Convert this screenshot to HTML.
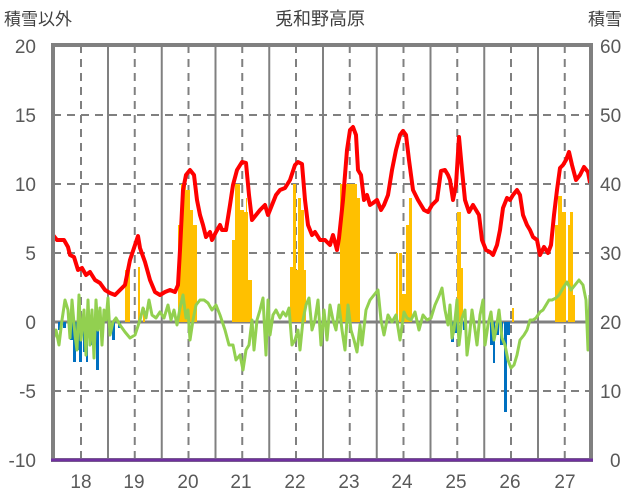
<!DOCTYPE html>
<html><head><meta charset="utf-8"><style>
html,body{margin:0;padding:0;background:#fff}
svg{display:block;font-family:"Liberation Sans","Noto Sans CJK JP",sans-serif}
</style></head><body>
<svg id="s" width="636" height="501" viewBox="0 0 636 501">
<g fill="#595959" font-size="19">
<text x="320" y="25" text-anchor="middle" font-size="18" fill="#404040">兎和野高原</text>
<text x="4" y="25" font-size="17" fill="#404040">積雪以外</text>
<text x="588" y="25" font-size="17" fill="#404040">積雪</text>
<g text-anchor="end">
<text x="36" y="53">20</text><text x="36" y="122">15</text><text x="36" y="191">10</text>
<text x="36" y="260">5</text><text x="36" y="329">0</text><text x="36" y="398">-5</text><text x="36" y="467">-10</text>
</g>
<g text-anchor="start">
<text x="600" y="53">60</text><text x="600" y="122">50</text><text x="600" y="191">40</text>
<text x="600" y="260">30</text><text x="600" y="329">20</text><text x="600" y="398">10</text><text x="610" y="467">0</text>
</g>
<g text-anchor="middle">
<text x="81" y="488">18</text><text x="134" y="488">19</text><text x="188" y="488">20</text><text x="241" y="488">21</text><text x="295" y="488">22</text><text x="349" y="488">23</text><text x="402" y="488">24</text><text x="456" y="488">25</text><text x="510" y="488">26</text><text x="565" y="488">27</text>
</g>
</g>
<g id="grid"></g>
<g id="bars"></g>
<g id="lines"></g>
<rect x="53" y="45" width="538" height="415" fill="none" stroke="#808080" stroke-width="4"/>
<line x1="51" y1="460" x2="593" y2="460" stroke="#7030a0" stroke-width="3"/>
</svg>
<script>
const NS="http://www.w3.org/2000/svg";
function el(p,t,a){const e=document.createElementNS(NS,t);for(const k in a)e.setAttribute(k,a[k]);document.getElementById(p).appendChild(e);return e;}
[115,184,253,391].forEach(y=>el("grid","line",{x1:53,x2:591,y1:y,y2:y,stroke:"#808080","stroke-width":2,"stroke-dasharray":"8,6"}));
el("grid","line",{x1:53,x2:591,y1:322,y2:322,stroke:"#808080","stroke-width":3});
for(let i=0;i<10;i++){let xd=81+i*53.75;el("grid","line",{x1:xd,x2:xd,y1:45,y2:460,stroke:"#808080","stroke-width":2,"stroke-dasharray":"8,6"});
if(i<9){let xs=108+i*53.75;el("grid","line",{x1:xs,x2:xs,y1:45,y2:460,stroke:"#808080","stroke-width":2});}}
const Y=[[125,130,270],[138,140,267],[143,145,308],[178,181,225],[181,186,184],[186,190,190],[190,193,210],[193,197,225],
[232,235,240],[235,240,184],[240,244,210],[244,248,212],[246,247,198],[248,252,280],
[290,293,267],[293,296,184],[296,298,270],[298,301,198],[301,304,210],[304,306,270],
[340,357,184],[357,360,198],[396,398,253],[399,402,253],[402,406,294],[406,409,225],[409,412,198],
[457,461,212],[461,463,268],[512,514,308],[555,558,225],[558,562,196],[562,566,212],[568,570,225],[570,573,212],[573,575,295]];
Y.forEach(b=>el("bars","rect",{x:b[0],y:b[2],width:b[1]-b[0],height:322-b[2],fill:"#ffc000"}));
const B=[[58,61,330],[63,66,328],[70,73,340],[73,76,362],[76,79,350],[79,82,362],[83,86,352],[86,88,362],[90,92,345],[96,99,370],[101,104,330],[108,110,330],[112,115,340],[118,121,328],
[451,454,342],[454,457,333],[463,466,330],[490,493,345],[493,495,363],[496,499,335],[500,503,345],[504,507,412],[507,510,335]];
B.forEach(b=>el("bars","rect",{x:b[0],y:322,width:b[1]-b[0],height:b[2]-322,fill:"#0070c0"}));
const G=[[53,340],[56,330],[59,345],[62,320],[65,300],[68,310],[70,338],[72,300],[75,335],[77,350],[79,295],[81,340],[84,310],[86,355],[88,300],[90,345],[92,310],[94,358],[96,300],[98,330],[100,308],[102,345],[104,310],[106,320],[108,298],[110,335],[113,322],[116,318],[120,325],[125,332],[130,338],[135,335],[140,320],[143,308],[146,318],[149,300],[152,315],[156,318],[160,312],[164,318],[168,305],[171,320],[174,310],[177,325],[180,308],[183,295],[186,318],[188,310],[190,340],[193,320],[196,305],[200,300],[204,300],[208,303],[212,310],[216,305],[220,315],[225,330],[229,345],[233,345],[236,360],[240,355],[243,370],[246,350],[249,345],[252,320],[254,350],[257,320],[260,310],[263,298],[266,355],[268,300],[270,335],[273,315],[276,310],[280,318],[283,312],[286,316],[289,308],[292,345],[295,340],[298,330],[300,350],[303,320],[306,305],[309,298],[312,330],[315,320],[318,300],[321,345],[324,310],[327,340],[330,305],[333,320],[336,330],[339,305],[342,330],[345,350],[348,305],[351,330],[354,340],[357,352],[360,325],[362,345],[366,310],[370,300],[374,295],[378,290],[381,320],[384,335],[388,315],[392,322],[396,315],[400,340],[404,312],[407,318],[411,320],[415,312],[419,330],[423,315],[427,320],[431,318],[435,305],[439,296],[442,288],[445,310],[448,325],[450,305],[452,338],[454,330],[457,300],[459,345],[462,318],[465,310],[467,355],[469,340],[472,310],[475,330],[477,345],[480,315],[483,300],[485,345],[488,325],[491,312],[494,340],[496,330],[499,310],[502,338],[505,345],[508,360],[511,368],[514,365],[517,355],[520,340],[524,335],[527,330],[530,320],[533,320],[536,318],[540,312],[543,310],[546,305],[549,300],[552,300],[556,298],[559,295],[563,288],[567,282],[571,290],[575,285],[579,280],[583,285],[586,300],[588,350],[590,295]];
el("lines","polyline",{points:G.map(p=>p.join(",")).join(" "),fill:"none",stroke:"#92d050","stroke-width":3,"stroke-linejoin":"round"});
const R=[[53,235],[57,240],[64,240],[68,247],[70,255],[74,257],[78,270],[82,268],[86,275],[90,272],[95,280],[100,283],[105,290],[110,293],[115,295],[120,290],[125,285],[130,260],[135,245],[138,236],[140,248],[145,262],[150,280],[155,292],[160,295],[165,292],[170,290],[175,292],[178,285],[180,250],[183,190],[186,175],[190,170],[194,175],[197,200],[200,215],[203,225],[206,237],[210,232],[212,240],[216,232],[220,225],[222,230],[226,230],[230,205],[233,185],[237,170],[242,162],[246,163],[249,195],[252,220],[256,215],[260,210],[265,205],[268,215],[272,205],[276,195],[280,190],[285,188],[290,180],[295,165],[298,162],[302,164],[305,200],[308,225],[312,235],[315,232],[320,240],[325,240],[330,245],[333,235],[337,250],[339,238],[343,200],[347,150],[350,130],[353,127],[356,135],[358,170],[361,175],[364,200],[367,195],[370,205],[373,203],[377,200],[381,210],[384,205],[388,195],[392,170],[396,150],[400,135],[403,131],[406,135],[409,160],[413,190],[418,200],[424,210],[428,212],[432,205],[437,200],[441,171],[445,170],[448,175],[450,180],[453,200],[456,185],[459,137],[462,170],[465,200],[469,212],[473,205],[476,210],[479,215],[482,240],[486,250],[490,252],[493,255],[497,245],[500,230],[503,208],[507,198],[510,200],[513,195],[517,190],[520,195],[523,215],[527,225],[530,230],[533,237],[537,240],[540,255],[544,247],[548,253],[551,245],[554,215],[557,190],[560,168],[563,165],[566,160],[569,152],[572,165],[576,180],[580,175],[584,167],[588,172],[590,183]];
el("lines","polyline",{points:R.map(p=>p.join(",")).join(" "),fill:"none",stroke:"#ff0000","stroke-width":4,"stroke-linejoin":"round"});
</script>
</body></html>
